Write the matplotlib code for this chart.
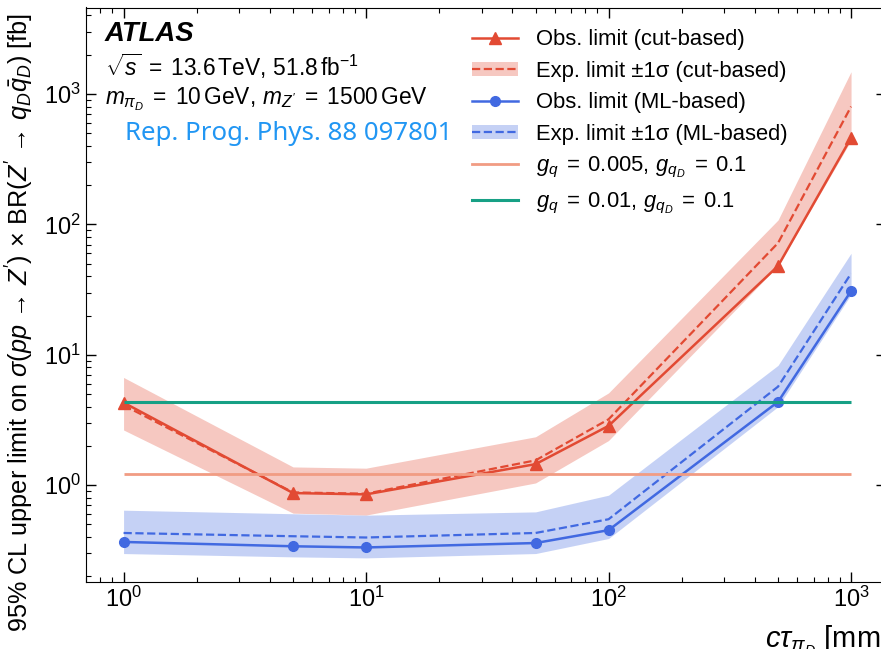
import matplotlib
matplotlib.use("Agg")
import matplotlib.pyplot as plt
from matplotlib.patches import Patch
from matplotlib.lines import Line2D

plt.rcParams['font.family'] = ['Liberation Sans', 'DejaVu Sans']
plt.rcParams['mathtext.fontset'] = 'custom'
plt.rcParams['mathtext.rm'] = 'Liberation Sans'
plt.rcParams['mathtext.it'] = 'Liberation Sans:italic'
plt.rcParams['mathtext.bf'] = 'Liberation Sans:bold'
plt.rcParams['mathtext.sf'] = 'Liberation Sans'

# ---- data ----
ctau = [1, 5, 10, 50, 100, 500, 1000]
cut_obs = [4.3, 0.87, 0.85, 1.45, 2.85, 48, 460]
cut_exp = [4.1, 0.88, 0.86, 1.55, 3.2, 72, 800]
cut_up = [6.7, 1.38, 1.35, 2.35, 5.1, 108, 1480]
cut_dn = [2.65, 0.61, 0.59, 1.04, 2.2, 48, 440]
ml_obs = [0.367, 0.34, 0.333, 0.36, 0.452, 4.36, 30.8]
ml_exp = [0.43, 0.406, 0.397, 0.43, 0.548, 5.7, 42]
ml_up = [0.643, 0.604, 0.589, 0.624, 0.838, 8.3, 60]
ml_dn = [0.299, 0.282, 0.277, 0.299, 0.39, 4.0, 29]
theory_005 = 1.21
theory_01 = 4.34

RED = '#E24A33'
BLUE = '#4169E1'
ORANGE = '#F19C83'
TEAL = '#17A085'

fig = plt.figure(figsize=(8.81, 6.49), dpi=100)
ax = fig.add_axes([86/881, (649-582.3)/649, 800.5/881, 574.8/649])

ax.fill_between(ctau, cut_dn, cut_up, color=RED, alpha=0.3, lw=0)
ax.fill_between(ctau, ml_dn, ml_up, color=BLUE, alpha=0.3, lw=0)
ax.plot(ctau, cut_exp, color=RED, ls='--', lw=1.6)
ax.plot(ctau, ml_exp, color=BLUE, ls='--', lw=1.6)
ax.plot(ctau, cut_obs, color=RED, lw=1.8, marker='^', ms=8)
ax.plot(ctau, ml_obs, color=BLUE, lw=1.8, marker='o', ms=7)
ax.hlines(theory_005, ctau[0], ctau[-1], color=ORANGE, lw=2)
ax.hlines(theory_01, ctau[0], ctau[-1], color=TEAL, lw=2.2)

ax.set_xscale('log')
ax.set_yscale('log')
ax.set_xlim(0.7, 1400)
ax.set_ylim(0.18, 4600)

ax.tick_params(which='both', direction='in', top=True, right=True, labelsize=17)
ax.tick_params(which='major', length=7, width=1)
ax.tick_params(which='minor', length=3.8, width=0.8)

ax.set_ylabel(r"95% CL upper limit on $\sigma(pp \,\rightarrow\, Z') \,\times\, \mathrm{BR}(Z' \,\rightarrow\, q_D\bar{q}_D)$ [fb]",
              fontsize=18.2)
ax.yaxis.set_label_coords(-0.063, 0.451)
ax.set_xlabel(r"$c\tau_{\pi_D}$ [mm]", fontsize=21, loc='right')
ax.xaxis.set_label_coords(1.002, -0.073)

fig.text(105/881, 1-34/649, "ATLAS", fontsize=19.8, fontweight='bold', fontstyle='italic', va='center', ha='left')
fig.text(105/881, 1-66/649, r"$\sqrt{s}\; =\; 13.6\,\mathrm{TeV},\, 51.8\,\mathrm{fb}^{-1}$", fontsize=16.4, va='center', ha='left')
fig.text(105/881, 1-99/649, r"$m_{\pi_D}\; =\; 10\,\mathrm{GeV},\, m_{Z'}\; =\; 1500\,\mathrm{GeV}$", fontsize=16.4, va='center', ha='left')
fig.text(125/881, 1-133/649, "Rep. Prog. Phys. 88 097801", fontsize=18.6, color='#2196F3',
         family=['Noto Sans', 'DejaVu Sans'], va='center', ha='left')

h1 = Line2D([], [], color=RED, lw=1.8, marker='^', ms=8)
h2 = (Patch(facecolor=RED, alpha=0.3, lw=0), Line2D([], [], color=RED, ls='--', lw=1.6))
h3 = Line2D([], [], color=BLUE, lw=1.8, marker='o', ms=7)
h4 = (Patch(facecolor=BLUE, alpha=0.3, lw=0), Line2D([], [], color=BLUE, ls='--', lw=1.6))
h5 = Line2D([], [], color=ORANGE, lw=2)
h6 = Line2D([], [], color=TEAL, lw=2.2)
labels = ["Obs. limit (cut-based)", "Exp. limit \u00b11\u03c3 (cut-based)",
          "Obs. limit (ML-based)", "Exp. limit \u00b11\u03c3 (ML-based)",
          r"$g_q\; =\; 0.005,\, g_{q_D}\; =\; 0.1$", r"$g_q\; =\; 0.01,\, g_{q_D}\; =\; 0.1$"]
leg = fig.legend([h1, h2, h3, h4, h5, h6], labels, loc='upper left',
                 bbox_to_anchor=(472/881, 1-29/649), frameon=False, fontsize=15.8,
                 borderpad=0, borderaxespad=0, handlelength=2.1, handletextpad=0.82,
                 labelspacing=0.48, handleheight=0.6)

fig.savefig("out.png", dpi=100)
